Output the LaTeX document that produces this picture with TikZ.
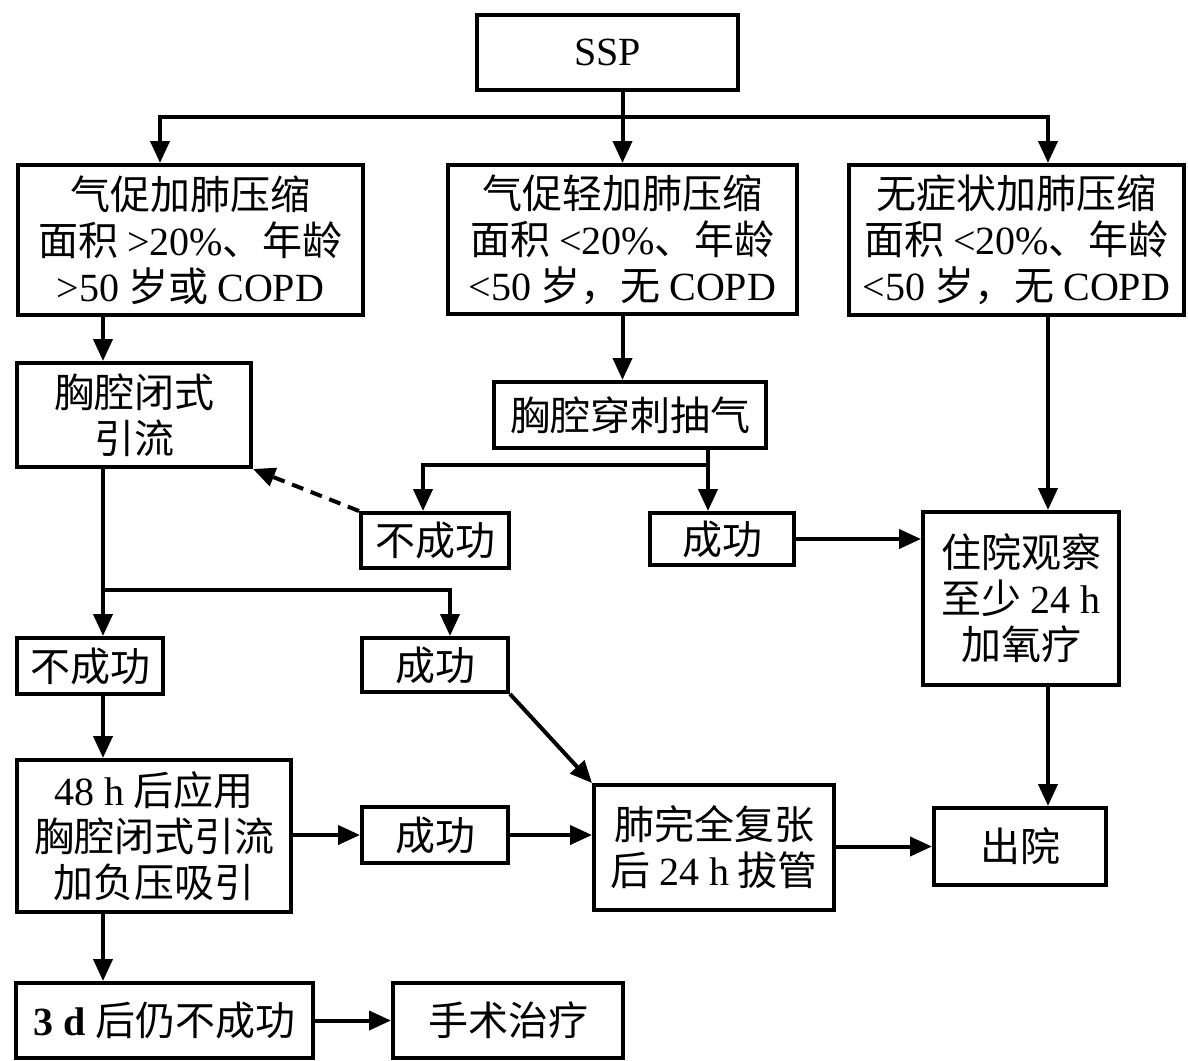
\documentclass[tikz,border=0pt]{standalone}
\usepackage{fontspec}
\setmainfont{Liberation Serif}
\newfontfamily\cjk{Noto Sans CJK SC}
\usetikzlibrary{arrows.meta}
\newcommand\lt[1]{{\rmfamily #1}}
\tikzset{
  box/.style={draw, line width=4pt, inner sep=0pt, align=center,
    font=\cjk\fontsize{40}{46}\selectfont},
  conn/.style={line width=4pt, line cap=rect},
  arr/.style={line width=4pt, -{Triangle[length=22pt,width=19pt]}},
  dasharr/.style={arr, dash pattern=on 12pt off 8pt},
}
\begin{document}
\begin{tikzpicture}[x=1pt,y=-1pt]
\useasboundingbox (0,0) rectangle (1188,1060);
% boxes
\node[box, minimum width=261, minimum height=75] (SSP) at (607.5,52.5) {\lt{SSP}};
\node[box, minimum width=345, minimum height=150] (L1) at (190.5,240)
  {气促加肺压缩\\面积 \lt{>20\%}、年龄\\\lt{>50} 岁或 \lt{COPD}};
\node[box, minimum width=349, minimum height=149] (M1) at (622.5,239.5)
  {气促轻加肺压缩\\面积 \lt{<20\%}、年龄\\\lt{<50} 岁，无 \lt{COPD}};
\node[box, minimum width=335, minimum height=150] (R1) at (1016.5,240)
  {无症状加肺压缩\\面积 \lt{<20\%}、年龄\\\lt{<50} 岁，无 \lt{COPD}};
\node[box, minimum width=234, minimum height=104] (L2) at (134,415) {胸腔闭式\\引流};
\node[box, minimum width=272, minimum height=66] (M2) at (630,415) {胸腔穿刺抽气};
\node[box, minimum width=148, minimum height=55] (M3a) at (435,540.5) {不成功};
\node[box, minimum width=144, minimum height=52] (M3b) at (722,539) {成功};
\node[box, minimum width=196, minimum height=173] (R2) at (1021,598.5)
  {住院观察\\至少 \lt{24 h}\\加氧疗};
\node[box, minimum width=146, minimum height=56] (L3a) at (90,666) {不成功};
\node[box, minimum width=146, minimum height=54] (L3b) at (435,665) {成功};
\node[box, minimum width=274, minimum height=152] (L4) at (154,836)
  {\lt{48 h} 后应用\\胸腔闭式引流\\加负压吸引};
\node[box, minimum width=146, minimum height=56] (L4b) at (435,835) {成功};
\node[box, minimum width=240, minimum height=125] (F) at (714,847.5)
  {肺完全复张\\后 \lt{24 h} 拔管};
\node[box, minimum width=172, minimum height=77] (D) at (1020,846.5) {出院};
\node[box, minimum width=297, minimum height=75] (L5) at (164.5,1020.5)
  {\lt{\textbf{3 d}} 后仍不成功};
\node[box, minimum width=230, minimum height=75] (S) at (508,1020.5) {手术治疗};
% helper coordinates
\coordinate (bL) at (160,117);
\coordinate (bR) at (1048,117);
\coordinate (cL) at (103,0);
\coordinate (mS) at (708,465);
\coordinate (mF) at (423,465);
\coordinate (lS) at (103,590);
\coordinate (lR) at (450,590);
% connectors
\draw[conn] (bL) -- (bR);
\draw[arr] (SSP.south -| M1.north) -- (M1.north);
\draw[arr] (bL) -- (bL |- L1.north);
\draw[arr] (bR) -- (bR |- R1.north);
\draw[arr] (L1.south -| cL) -- (L2.north -| cL);
\draw[arr] (M1.south) -- (M1.south |- M2.north);
\draw[conn] (M2.south -| mS) -- (mS) -- (mF);
\draw[arr] (mF) -- (M3a.north -| mF);
\draw[arr] (mS) -- (M3b.north -| mS);
\draw[dasharr] (M3a.north west) -- (L2.south east);
\draw[arr] (M3b.east) -- (M3b.east -| R2.west);
\draw[arr] (R1.south -| bR) -- (R2.north -| bR);
\draw[conn] (L2.south -| cL) -- (lS) -- (lR);
\draw[arr] (lS) -- (L3a.north -| lS);
\draw[arr] (lR) -- (L3b.north -| lR);
\draw[arr] (L3a.south -| cL) -- (L4.north -| cL);
\draw[arr] (L3b.south east) -- (F.north west);
\draw[arr] (L4.east |- L4b.west) -- (L4b.west);
\draw[arr] (L4b.east) -- (L4b.east -| F.west);
\draw[arr] (D.west -| F.east) -- (D.west);
\draw[arr] (R2.south -| bR) -- (D.north -| bR);
\draw[arr] (L4.south -| cL) -- (L5.north -| cL);
\draw[arr] (L5.east) -- (S.west);
\end{tikzpicture}
\end{document}
